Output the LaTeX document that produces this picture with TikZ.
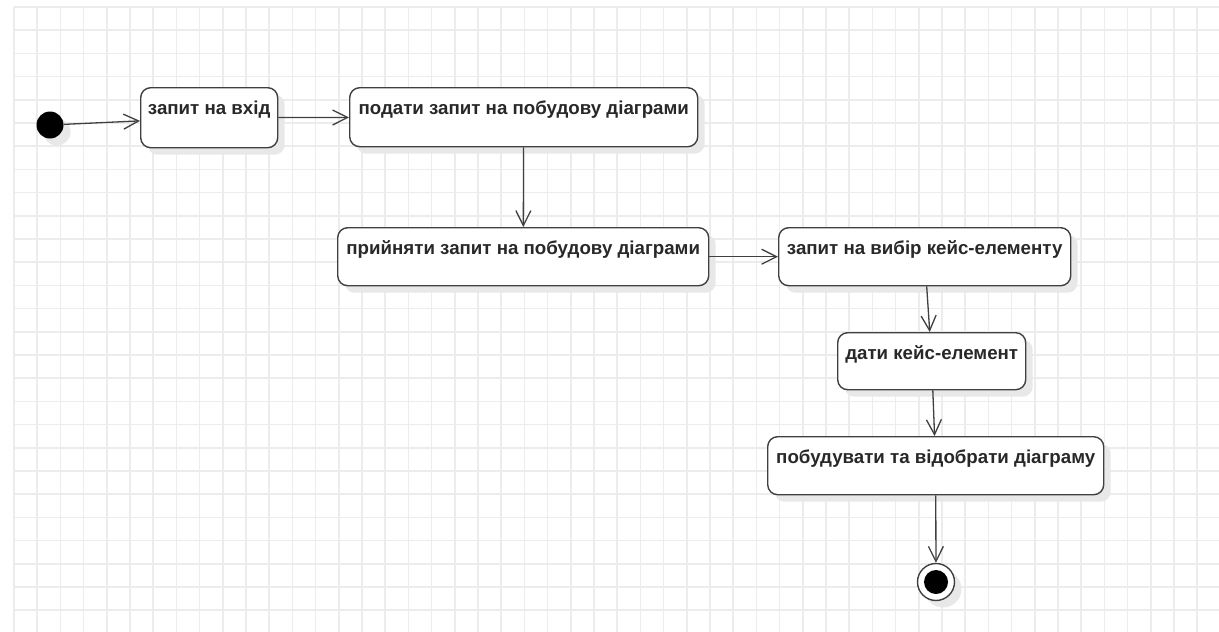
\documentclass[tikz,border=0pt]{standalone}
\usepackage{fontspec}
\setmainfont{Liberation Sans}
\usetikzlibrary{arrows.meta,shadows}
\definecolor{gridc}{RGB}{236,236,236}
\definecolor{linec}{RGB}{64,64,64}
\definecolor{shadowc}{RGB}{232,232,232}
\definecolor{textc}{RGB}{40,40,40}
\begin{document}
\begin{tikzpicture}[x=1pt,y=-1pt,
  softshadow/.style={drop shadow={shadow xshift=7pt, shadow yshift=-7pt, fill=shadowc, opacity=1}},
  state/.style 2 args={draw=linec, line width=1.4pt, fill=white, rounded corners=10pt,
    anchor=north west, inner xsep=0pt, inner ysep=0pt,
    minimum width=#1, text height=27pt, text depth=#2,
    font=\bfseries\fontsize{18.7}{20}\selectfont, text=textc, softshadow},
  flow/.style={draw=linec, line width=1.3pt,
    -{Straight Barb[length=15pt,width=15pt,line width=1.3pt]}}
]
% canvas and background grid
\fill[white] (0,0) rectangle (1219,632);
\useasboundingbox (0,0) rectangle (1219,632);
\foreach \i in {0,...,51} \draw[gridc, line width=1.5pt] (14+\i*23.2,7) -- (14+\i*23.2,632);
\foreach \j in {0,...,26} \draw[gridc, line width=1.5pt] (14,7+\j*23.2) -- (1219,7+\j*23.2);

% initial and final states
\node[circle, fill=black, minimum size=27pt, inner sep=0pt, softshadow] (init) at (50,125) {};
\node[circle, draw=linec, line width=1.4pt, fill=white, minimum size=37pt, inner sep=0pt, softshadow] (fin) at (936,582) {};
\node[circle, fill=black, minimum size=24pt, inner sep=0pt] (fincore) at (fin) {};

% actions
\node[state={137pt}{33pt}] (s1) at (140,87) {запит на вхід};
\node[state={348pt}{32pt}] (s2) at (349,87) {подати запит на побудову діаграми};
\node[state={371pt}{31pt}] (s3) at (337,227) {прийняти запит на побудову діаграми};
\node[state={292pt}{31pt}] (s4) at (778,227) {запит на вибір кейс-елементу};
\node[state={188pt}{30pt}] (s5) at (837,332) {дати кейс-елемент};
\node[state={336pt}{31pt}] (s6) at (767,436) {побудувати та відобрати діаграму};

% transitions
\draw[flow] (init) -- (s1);
\draw[flow] (s1) -- (s2);
\draw[flow] (s2) -- (s3);
\draw[flow] (s3) -- (s4);
\draw[flow] (s4) -- (s5);
\draw[flow] (s5) -- (s6);
\draw[flow] (s6) -- (fin);
\end{tikzpicture}
\end{document}
